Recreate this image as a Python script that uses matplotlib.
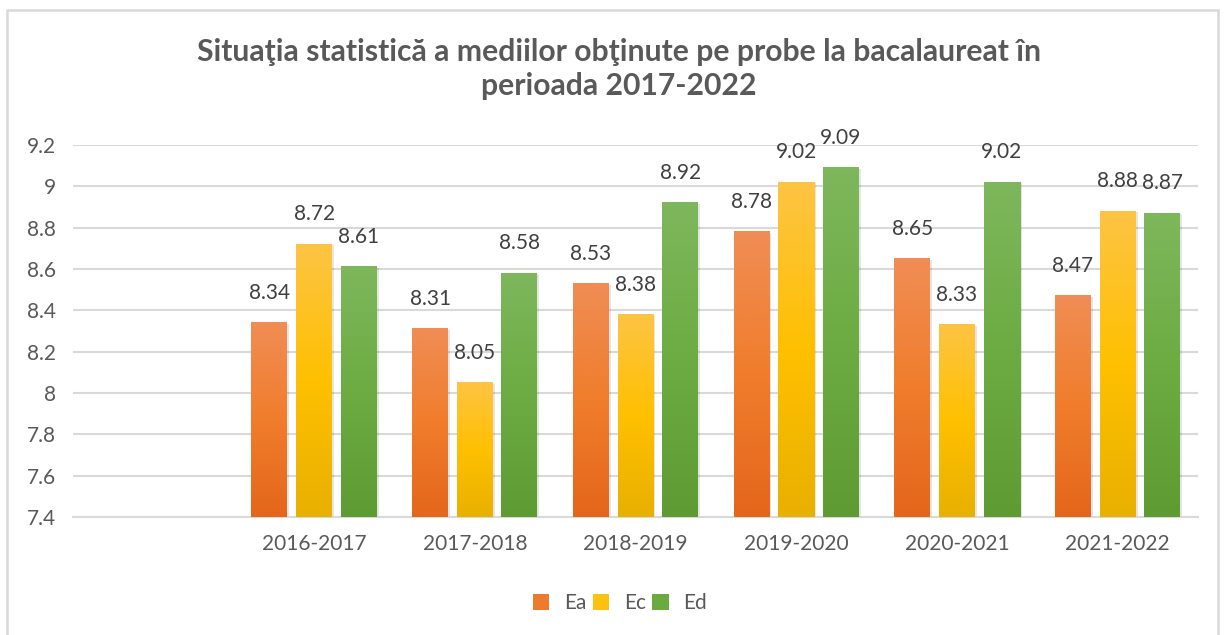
import numpy as np
import matplotlib
matplotlib.use("Agg")
import matplotlib.pyplot as plt
from matplotlib.patches import Patch, Rectangle
from matplotlib.colors import LinearSegmentedColormap

categories = ["2016-2017", "2017-2018", "2018-2019", "2019-2020", "2020-2021", "2021-2022"]
series_names = ["Ea", "Ec", "Ed"]
ea = [8.34, 8.31, 8.53, 8.78, 8.65, 8.47]
ec = [8.72, 8.05, 8.38, 9.02, 8.33, 8.88]
ed = [8.61, 8.58, 8.92, 9.09, 9.02, 8.87]
yticks = [7.4, 7.6, 7.8, 8.0, 8.2, 8.4, 8.6, 8.8, 9.0, 9.2]
ytick_labels = ["7.4", "7.6", "7.8", "8", "8.2", "8.4", "8.6", "8.8", "9", "9.2"]
title = "Situaţia statistică a mediilor obţinute pe probe la bacalaureat în\nperioada 2017-2022"

# gradient colours (top, middle, bottom)
grads = [
    ["#F08D55", "#F07D2C", "#E4661B"],
    ["#FDC444", "#FFC000", "#E8B000"],
    ["#7EB75C", "#6CAC42", "#5E9B33"],
]
legend_cols = ["#EE7A2E", "#FDC10F", "#6AAA40"]

plt.rcParams['font.family'] = ['Lato', 'DejaVu Sans']
text_col = "#595959"

fig = plt.figure(figsize=(12.25, 6.35), dpi=100)
fig.patch.set_facecolor("white")
fig.patches.append(Rectangle((7 / 1225, -0.05), (1218 - 7) / 1225, 1.05 - 10 / 635,
                             transform=fig.transFigure, fill=False,
                             edgecolor="#D9D9D9", linewidth=1.8, zorder=0))

ax = fig.add_axes([73 / 1225, 1 - 517 / 635, (1198 - 73) / 1225, (517 - 145) / 635])
ax.set_ylim(7.4, 9.2)
ax.set_xlim(-1.5, 5.5)

x = np.arange(len(categories))
step = 0.278
width = 0.224
all_vals = [ea, ec, ed]
for i, (vals, g) in enumerate(zip(all_vals, grads)):
    bars = ax.bar(x + (i - 1) * step, vals, width=width, bottom=0, color=legend_cols[i],
                  zorder=2, label=series_names[i])
    cmap = LinearSegmentedColormap.from_list("g%d" % i, g[::-1])
    grad = np.linspace(0, 1, 256).reshape(-1, 1)
    for b, v in zip(bars, vals):
        x0 = b.get_x()
        w = b.get_width()
        # subtle shadow
        ax.add_patch(Rectangle((x0 + 0.012, 7.4), w, v - 7.4 - 0.006,
                               facecolor="#000000", alpha=0.10, zorder=1.5, linewidth=0))
        ax.imshow(grad, extent=(x0, x0 + w, 7.4, v), origin="lower", cmap=cmap,
                  aspect="auto", zorder=3, interpolation="bilinear")
        ax.annotate(f"{v:.2f}", (x0 + w / 2, v), xytext=(0, 21.5), textcoords="offset points",
                    ha="center", va="center", fontsize=15, color="#404040", zorder=4)

ax.set_xlim(-1.5, 5.5)
ax.set_ylim(7.4, 9.2)
ax.set_yticks(yticks)
ax.set_yticklabels(ytick_labels)
ax.set_xticks(x)
ax.set_xticklabels(categories)
ax.tick_params(axis="both", length=0, labelsize=15, labelcolor=text_col)
ax.tick_params(axis="y", pad=12)
ax.tick_params(axis="x", pad=12)
ax.grid(axis="y", color="#D9D9D9", linewidth=1.5, zorder=0)
ax.set_axisbelow(True)
for s in ["top", "right", "left"]:
    ax.spines[s].set_visible(False)
ax.spines["bottom"].set_color("#D9D9D9")
ax.spines["bottom"].set_linewidth(1.5)

fig.text(0.505, 1 - 69 / 635, title, ha="center", va="center", fontsize=21.7,
         fontweight="bold", color=text_col, linespacing=1.3)

handles = [Patch(facecolor=c, edgecolor="none") for c in legend_cols]
fig.legend(handles, series_names, loc="center", bbox_to_anchor=(620 / 1225, 1 - 603 / 635),
           ncol=3, frameon=False, fontsize=15, handlelength=0.8, handleheight=0.8,
           handletextpad=0.7, columnspacing=0.3, labelcolor=text_col)

fig.savefig("out.png", dpi=100)
